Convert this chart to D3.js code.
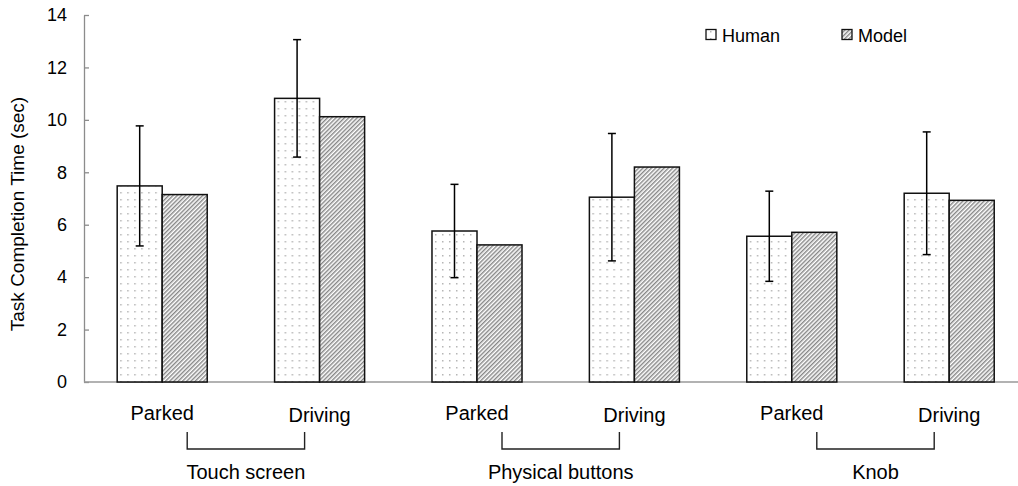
<!DOCTYPE html>
<html>
<head>
<meta charset="utf-8">
<script src="https://cdn.jsdelivr.net/npm/d3@7"></script>
<style>
  body { margin: 0; background: #fff; }
  text { font-family: Arial, "Liberation Sans", sans-serif; fill: #000; }
</style>
</head>
<body>
<div id="chart"></div>
<script>
// data
const categories = ['Parked', 'Driving', 'Parked', 'Driving', 'Parked', 'Driving'];
const groups = ['Touch screen', 'Physical buttons', 'Knob'];
const human = [7.48, 10.82, 5.76, 7.05, 5.56, 7.20];
const model = [7.15, 10.12, 5.23, 8.20, 5.71, 6.93];
const humanErr = [2.29, 2.24, 1.78, 2.43, 1.72, 2.34];
const yTicks = [0, 2, 4, 6, 8, 10, 12, 14];
const seriesNames = ['Human', 'Model'];

const W = 1018, H = 486;
const svg = d3.select('#chart').append('svg')
  .attr('width', W)
  .attr('height', H);

// patterns
const defs = svg.append('defs');
const dots = defs.append('pattern')
  .attr('id', 'dots')
  .attr('patternUnits', 'userSpaceOnUse')
  .attr('width', 7).attr('height', 7);
dots.append('rect').attr('width', 7).attr('height', 7).attr('fill', '#fff');
dots.append('rect').attr('x', 3).attr('y', 3).attr('width', 1.5).attr('height', 1.5).attr('fill', '#b5b5b5');

const hatch = defs.append('pattern')
  .attr('id', 'hatch')
  .attr('patternUnits', 'userSpaceOnUse')
  .attr('width', 3).attr('height', 3)
  .attr('patternTransform', 'rotate(45)');
hatch.append('rect').attr('width', 3).attr('height', 3).attr('fill', '#fff');
hatch.append('line')
  .attr('x1', 0.75).attr('y1', 0).attr('x2', 0.75).attr('y2', 3)
  .attr('stroke', '#7a7a7a').attr('stroke-width', 1.3);

// scales
const x = d3.scaleBand()
  .domain(d3.range(categories.length))
  .range([83.5, 83.5 + 157.4 * categories.length])
  .paddingInner(0.428)
  .paddingOuter(0.214);

const xs = d3.scaleBand()
  .domain(seriesNames)
  .range([0, x.bandwidth()]);

const y = d3.scaleLinear()
  .domain([0, 14])
  .range([382, 15]);

// y axis
const yAxis = svg.append('g')
  .attr('transform', 'translate(84,0)')
  .call(d3.axisLeft(y).tickValues(yTicks).tickSizeInner(-5).tickSizeOuter(0).tickPadding(17));
yAxis.select('.domain').attr('stroke', '#8c8c8c').attr('stroke-width', 1.3);
yAxis.selectAll('.tick line').attr('stroke', '#8c8c8c').attr('stroke-width', 1.3);
yAxis.selectAll('.tick text')
  .style('font-size', '18px')
  .style('font-family', 'Arial, "Liberation Sans", sans-serif');

// x axis line
svg.append('line')
  .attr('x1', 84).attr('x2', W)
  .attr('y1', y(0)).attr('y2', y(0))
  .attr('stroke', '#999').attr('stroke-width', 1.3);

// bars
const rows = categories.map((c, i) => ({ i, c, human: human[i], model: model[i], err: humanErr[i] }));

const g = svg.selectAll('.cat')
  .data(rows)
  .enter().append('g')
  .attr('class', 'cat')
  .attr('transform', d => `translate(${x(d.i)},0)`);

g.append('rect')
  .attr('x', xs('Human'))
  .attr('y', d => y(d.human))
  .attr('width', xs.bandwidth())
  .attr('height', d => y(0) - y(d.human))
  .attr('fill', 'url(#dots)')
  .attr('stroke', '#111')
  .attr('stroke-width', 1.5);

g.append('rect')
  .attr('x', xs('Model'))
  .attr('y', d => y(d.model))
  .attr('width', xs.bandwidth())
  .attr('height', d => y(0) - y(d.model))
  .attr('fill', 'url(#hatch)')
  .attr('stroke', '#111')
  .attr('stroke-width', 1.5);

// error bars (human only)
const ex = xs('Human') + xs.bandwidth() / 2;
g.append('line')
  .attr('x1', ex).attr('x2', ex)
  .attr('y1', d => y(d.human + d.err))
  .attr('y2', d => y(d.human - d.err))
  .attr('stroke', '#000').attr('stroke-width', 1.5);
[1, -1].forEach(s => {
  g.append('line')
    .attr('x1', ex - 4).attr('x2', ex + 4)
    .attr('y1', d => y(d.human + s * d.err))
    .attr('y2', d => y(d.human + s * d.err))
    .attr('stroke', '#000').attr('stroke-width', 1.5);
});

// category labels
g.append('text')
  .attr('x', x.bandwidth() / 2)
  .attr('y', d => d.c === 'Parked' ? 420 : 422)
  .attr('text-anchor', 'middle')
  .style('font-size', '20px')
  .text(d => d.c);

// group brackets + labels
groups.forEach((name, k) => {
  const cx1 = x(2 * k) + x.bandwidth() / 2;
  const cx2 = x(2 * k + 1) + x.bandwidth() / 2;
  const bx1 = cx1 + 25, bx2 = cx2 - 15;
  svg.append('path')
    .attr('d', `M${bx1},432V449H${bx2}V432`)
    .attr('fill', 'none')
    .attr('stroke', '#222')
    .attr('stroke-width', 1.4);
  svg.append('text')
    .attr('x', (bx1 + bx2) / 2)
    .attr('y', 479)
    .attr('text-anchor', 'middle')
    .style('font-size', '20px')
    .text(name);
});

// y axis title
svg.append('text')
  .attr('transform', 'translate(24,214) rotate(-90)')
  .attr('text-anchor', 'middle')
  .style('font-size', '19px')
  .text('Task Completion Time (sec)');

// legend
const legend = svg.append('g');
const legendX = [706, 842];
seriesNames.forEach((s, k) => {
  legend.append('rect')
    .attr('x', legendX[k]).attr('y', 29.5)
    .attr('width', 10).attr('height', 10)
    .attr('fill', k === 0 ? 'url(#dots)' : 'url(#hatch)')
    .attr('stroke', '#111').attr('stroke-width', 1.3);
  legend.append('text')
    .attr('x', legendX[k] + 16).attr('y', 41.5)
    .style('font-size', '18px')
    .text(s);
});
</script>
</body>
</html>
